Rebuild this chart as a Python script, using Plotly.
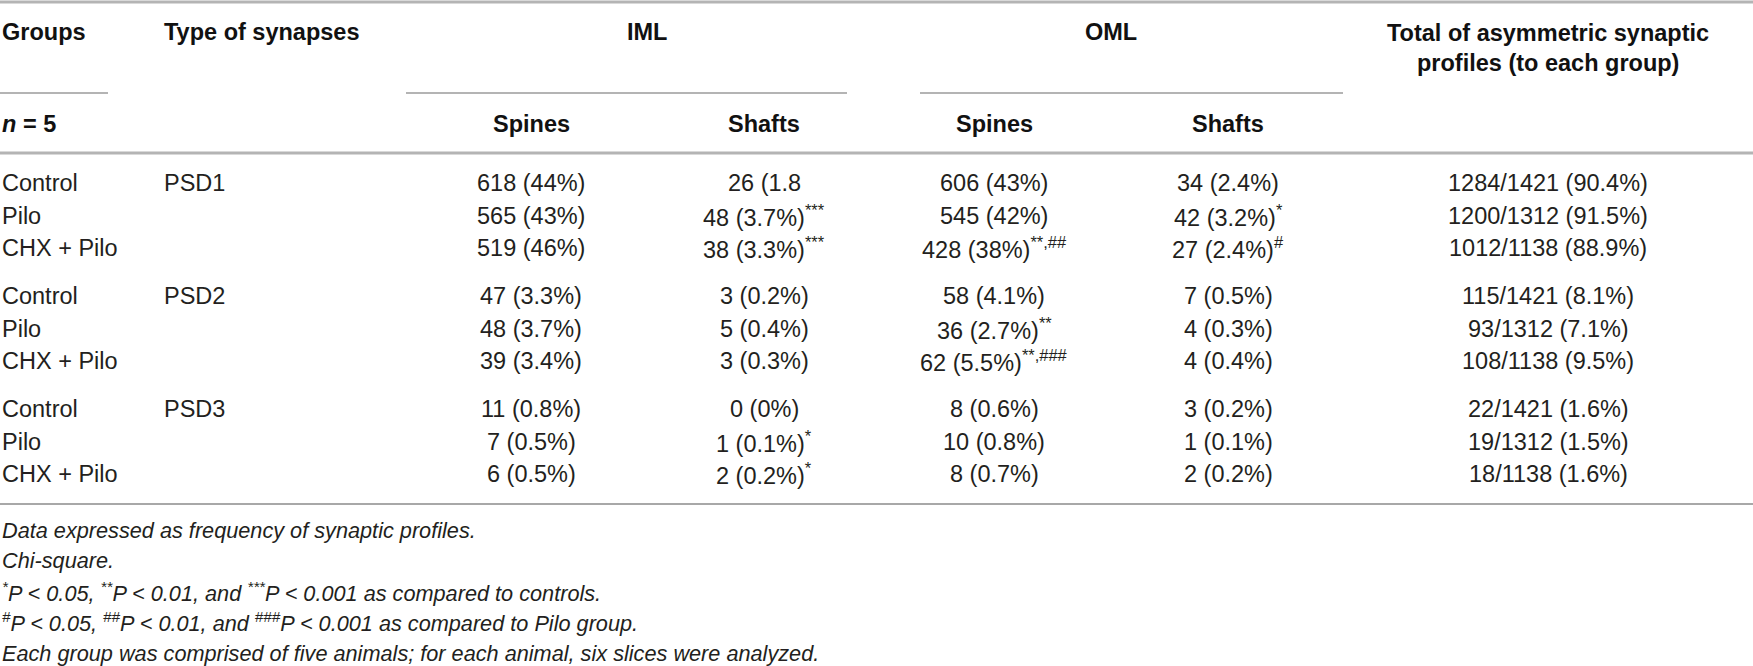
import plotly.graph_objects as go

# table content
groups = ["Control", "Pilo", "CHX + Pilo", "Control", "Pilo", "CHX + Pilo", "Control", "Pilo", "CHX + Pilo"]
syn_types = ["PSD1", "", "", "PSD2", "", "", "PSD3", "", ""]
iml_spines = ["618 (44%)", "565 (43%)", "519 (46%)", "47 (3.3%)", "48 (3.7%)", "39 (3.4%)",
              "11 (0.8%)", "7 (0.5%)", "6 (0.5%)"]
iml_shafts = ["26 (1.8", "48 (3.7%)<sup>***</sup>", "38 (3.3%)<sup>***</sup>", "3 (0.2%)", "5 (0.4%)",
              "3 (0.3%)", "0 (0%)", "1 (0.1%)<sup>*</sup>", "2 (0.2%)<sup>*</sup>"]
oml_spines = ["606 (43%)", "545 (42%)", "428 (38%)<sup>**,##</sup>", "58 (4.1%)", "36 (2.7%)<sup>**</sup>",
              "62 (5.5%)<sup>**,###</sup>", "8 (0.6%)", "10 (0.8%)", "8 (0.7%)"]
oml_shafts = ["34 (2.4%)", "42 (3.2%)<sup>*</sup>", "27 (2.4%)<sup>#</sup>", "7 (0.5%)", "4 (0.3%)",
              "4 (0.4%)", "3 (0.2%)", "1 (0.1%)", "2 (0.2%)"]
totals = ["1284/1421 (90.4%)", "1200/1312 (91.5%)", "1012/1138 (88.9%)", "115/1421 (8.1%)",
          "93/1312 (7.1%)", "108/1138 (9.5%)", "22/1421 (1.6%)", "19/1312 (1.5%)", "18/1138 (1.6%)"]

footnotes = [
    "Data expressed as frequency of synaptic profiles.",
    "Chi-square.",
    "<sup>*</sup>P < 0.05, <sup>**</sup>P < 0.01, and <sup>***</sup>P < 0.001 as compared to controls.",
    "<sup>#</sup>P < 0.05, <sup>##</sup>P < 0.01, and <sup>###</sup>P < 0.001 as compared to Pilo group.",
    "Each group was comprised of five animals; for each animal, six slices were analyzed.",
]

W, H = 1753, 666
FONT = "Liberation Sans, Arial, sans-serif"
BODY = dict(family=FONT, size=23.5, color="#231f20")
HEAD = dict(family=FONT, size=23.5, color="#111111")
NOTE = dict(family=FONT, size=21.7, color="#231f20")
RULE = "#b4b4b4"

fig = go.Figure()
fig.add_trace(go.Scatter(x=[0, W], y=[0, H], mode="markers", marker=dict(opacity=0),
                         hoverinfo="skip", showlegend=False))

ann = []


def txt(x, y, s, font, anchor="center"):
    ann.append(dict(x=x, y=y, xref="x", yref="y", text=s, showarrow=False,
                    xanchor=anchor, yanchor="middle", font=font, align=anchor))


# header
txt(0, 32, "<b>Groups</b>", HEAD, "left")
txt(162, 32, "<b>Type of synapses</b>", HEAD, "left")
txt(647, 32, "<b>IML</b>", HEAD)
txt(1111, 32, "<b>OML</b>", HEAD)
txt(1548, 33, "<b>Total of asymmetric synaptic</b>", HEAD)
txt(1548, 63, "<b>profiles (to each group)</b>", HEAD)
txt(0, 124, "<b><i>n</i> = 5</b>", HEAD, "left")
col_x = [531, 764, 994, 1228]
for cx, s in zip(col_x, ["Spines", "Shafts", "Spines", "Shafts"]):
    txt(cx, 124, "<b>%s</b>" % s, HEAD)

# body rows
for i in range(len(groups)):
    y = 183 + (i // 3) * 113 + (i % 3) * 32.5
    txt(0, y, groups[i], BODY, "left")
    if syn_types[i]:
        txt(162, y, syn_types[i], BODY, "left")
    for cx, col in zip(col_x, [iml_spines, iml_shafts, oml_spines, oml_shafts]):
        txt(cx, y, col[i], BODY)
    txt(1548, y, totals[i], BODY)

# footnotes
for i, s in enumerate(footnotes):
    txt(0, 530 + i * 30.8, "<i>%s</i>" % s, NOTE, "left")

shapes = [
    dict(type="line", x0=0, x1=W, y0=2, y1=2, line=dict(color=RULE, width=3)),
    dict(type="line", x0=0, x1=108, y0=93, y1=93, line=dict(color=RULE, width=2)),
    dict(type="line", x0=406, x1=847, y0=93, y1=93, line=dict(color=RULE, width=2)),
    dict(type="line", x0=920, x1=1343, y0=93, y1=93, line=dict(color=RULE, width=2)),
    dict(type="line", x0=0, x1=W, y0=153, y1=153, line=dict(color=RULE, width=3)),
    dict(type="line", x0=0, x1=W, y0=504, y1=504, line=dict(color="#a8a8a8", width=2)),
]
for s in shapes:
    s.update(xref="x", yref="y")

fig.update_layout(
    width=W, height=H,
    margin=dict(l=0, r=0, t=0, b=0),
    paper_bgcolor="white", plot_bgcolor="white",
    xaxis=dict(range=[0, W], visible=False, fixedrange=True),
    yaxis=dict(range=[H, 0], visible=False, fixedrange=True),
    annotations=ann, shapes=shapes, showlegend=False,
)

# page body has a default 8px margin, drop it so the figure fills the window
fig.write_html("out.html", config={"displayModeBar": False},
               post_script="document.body.style.margin='0';document.body.style.overflow='hidden';")
